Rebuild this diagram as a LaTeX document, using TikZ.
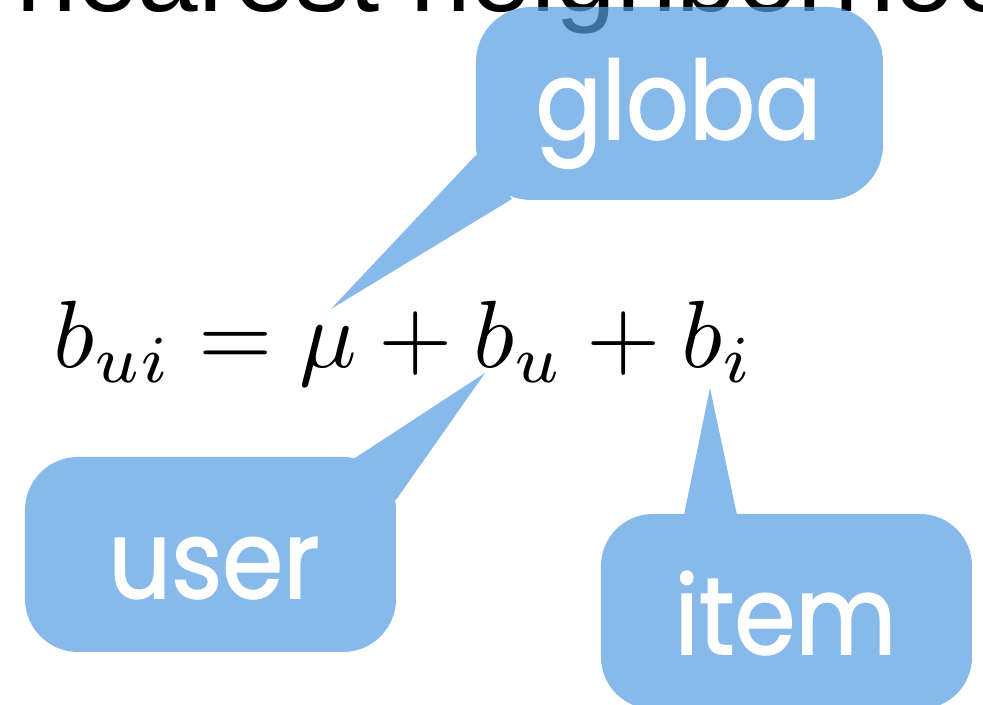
\documentclass[tikz,border=0pt]{standalone}
\usepackage{fontspec}
\newfontfamily\titlefont{Liberation Sans}
\newfontfamily\bubblefont{Poppins}[FakeStretch=0.9, FakeBold=1.5]
\definecolor{bubbleblue}{RGB}{86,158,225}
\tikzset{
    bubble/.style={fill=bubbleblue, fill opacity=.71},
    bubbletext/.style={text=white, anchor=base, inner sep=0pt, font=\bubblefont\fontsize{31}{36}\selectfont}
}
\begin{document}
\begin{tikzpicture}
    \useasboundingbox (0,0) rectangle (9.83,-7.05);
    \clip (0,0) rectangle (9.83,-7.05);
    \node[anchor=base west, inner sep=0pt, font=\titlefont\fontsize{31}{37}\selectfont] (title) at (0.16,-0.12) {nearest neighborhood};
    \node[anchor=base west, inner sep=0pt, scale=2.72, transform shape] (eq) at (0.52,-3.68) {$b_{ui} = \mu + b_u + b_i$};
    \coordinate (globatip) at (3.31,-3.09);
    \coordinate (usertip) at (4.85,-3.73);
    \coordinate (itemtip) at (7.10,-3.88);
    \fill[bubble] [rounded corners=0.55cm] (4.76,-0.07) rectangle (8.83,-2.00)
        [sharp corners] (4.76,-1.55) -- (globatip) -- (5.12,-1.99) -- cycle;
    \fill[bubble] [rounded corners=0.53cm] (0.25,-4.57) rectangle (3.96,-6.52)
        [sharp corners] (3.96,-5.00) -- (usertip) -- (3.55,-4.58) -- cycle;
    \fill[bubble] [rounded corners=0.52cm] (6.01,-5.14) rectangle (9.72,-7.09)
        [sharp corners] (7.37,-5.15) -- (itemtip) -- (6.84,-5.15) -- cycle;
    \node[bubbletext] (globa) at (6.785,-1.39) {globa};
    \node[bubbletext] (user) at (2.14,-5.98) {user};
    \node[bubbletext] (item) at (7.855,-6.54) {item};
\end{tikzpicture}
\end{document}
